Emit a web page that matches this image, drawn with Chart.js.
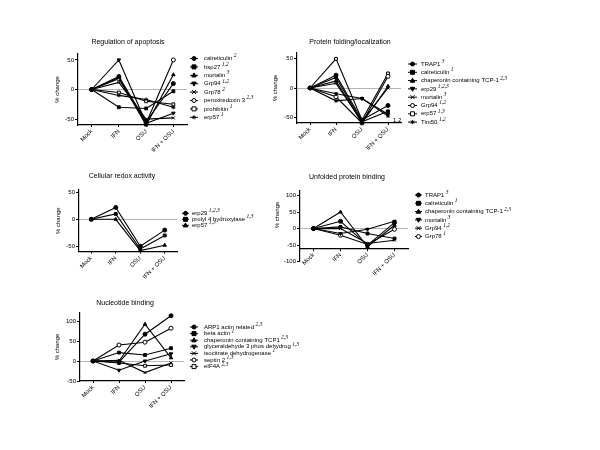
<!DOCTYPE html>
<html><head><meta charset="utf-8">
<script src="https://cdn.jsdelivr.net/npm/chart.js@4"></script>
<style>
html,body{margin:0;padding:0;background:#fff;}
#wrap{position:relative;width:600px;height:450px;overflow:hidden;}
#wrap canvas{position:absolute;left:0;top:0;}
</style></head><body><div id="wrap"></div>
<script>
// ---------- DATA ----------
const categories = ['Mock', 'IFN', 'OSU', 'IFN + OSU'];

const apoptosisTitle = 'Regulation of apoptosis';
const apoptosisNames = ['calreticulin', 'hsp27', 'mortalin', 'Grp94', 'Grp78', 'peroxiredoxin 3', 'prohibitin', 'erp57'];
const apoptosisSup = ['2', '1,2', '3', '1,2', '2', '2,3', '1', '1'];
const apoptosisValues = [
  [0, 22, -55, 10],
  [0, -30, -32, -3],
  [0, 20, -60, 25],
  [0, 50, -57, -40],
  [0, 12, -50, -48],
  [0, 18, -57, 50],
  [0, -5, -20, -25],
  [0, -10, -17, -30]
];
const apoptosisTicks = [-50, 0, 50];

const foldingTitle = 'Protein folding/localization';
const foldingNames = ['TRAP1', 'calreticulin', 'chaperonin containing TCP-1', 'erp29', 'mortalin', 'Grp94', 'erp57', 'Tim50'];
const foldingSup = ['3', '1', '2,3', '1,2,3', '3', '1,2', '1,3', '1,2'];
const foldingValues = [
  [0, 22, -55, -30],
  [0, 18, -58, -40],
  [0, 12, -60, 3],
  [0, -10, -18, -45],
  [0, 8, -57, 0],
  [0, -15, -60, 20],
  [0, 50, -55, 25],
  [0, -22, -18, -48]
];
const foldingTicks = [-50, 0, 50];
const foldingNote = '1,2';

const redoxTitle = 'Cellular redox activity';
const redoxNames = ['erp29', 'prolyl 4 hydroxylase', 'erp57'];
const redoxSup = ['1,2,3', '1,3', '1,3'];
const redoxValues = [
  [0, 22, -50, -20],
  [0, 10, -55, -30],
  [0, 0, -58, -48]
];
const redoxTicks = [-50, 0, 50];

const unfoldedTitle = 'Unfolded protein binding';
const unfoldedNames = ['TRAP1', 'calreticulin', 'chaperonin containing TCP-1', 'mortalin', 'Grp94', 'Grp78'];
const unfoldedSup = ['3', '1', '2,3', '3', '1,2', '1'];
const unfoldedValues = [
  [0, 22, -50, 18],
  [0, 5, -15, -30],
  [0, 50, -55, 10],
  [0, -15, -2, 22],
  [0, 0, -45, -35],
  [0, -20, -48, -2]
];
const unfoldedTicks = [-100, -50, 0, 50, 100];

const nucleotideTitle = 'Nucleotide binding';
const nucleotideNames = ['ARP1 actin related', 'beta actin', 'chaperonin containing TCP1', 'glyceraldehyde 3 phos dehydrog', 'isocitrate dehydrogenase', 'septin 2', 'eIF4A'];
const nucleotideSup = ['2,3', '1', '2,3', '1,3', '1', '1,3', '2,3'];
const nucleotideValues = [
  [0, -3, 67, 113],
  [0, 21, 15, 32],
  [0, 0, 92, 8],
  [0, -23, 0, 18],
  [0, 2, -29, -5],
  [0, 40, 47, 82],
  [0, -5, -12, -10]
];
const nucleotideTicks = [-50, 0, 50, 100];

const yAxisTitle = '% change';

// ---------- STYLE ----------
Chart.defaults.font.family = '"Liberation Sans", Arial, sans-serif';
Chart.defaults.color = '#000';
const FONT = '"Liberation Sans", Arial, sans-serif';
const markerStyles = [
  {ps: 'circle', fill: true},
  {ps: 'rect', fill: true},
  {ps: 'triangle', fill: true},
  {ps: 'triangle', fill: true, rot: 180},
  {ps: 'crossRot', fill: false},
  {ps: 'circle', fill: false},
  {ps: 'rect', fill: false},
  {ps: 'star', fill: false}
];

function drawMarker(ctx, st, x, y, r) {
  ctx.save();
  ctx.translate(x, y);
  if (st.rot) ctx.rotate(st.rot * Math.PI / 180);
  ctx.beginPath();
  ctx.lineWidth = 1;
  ctx.strokeStyle = '#000';
  ctx.fillStyle = st.fill ? '#000' : '#fff';
  if (st.ps === 'circle') { ctx.arc(0, 0, r, 0, Math.PI * 2); ctx.fill(); ctx.stroke(); }
  else if (st.ps === 'rect') { ctx.rect(-r, -r, 2 * r, 2 * r); ctx.fill(); ctx.stroke(); }
  else if (st.ps === 'triangle') { ctx.moveTo(0, -r * 1.2); ctx.lineTo(r * 1.1, r * 0.8); ctx.lineTo(-r * 1.1, r * 0.8); ctx.closePath(); ctx.fill(); ctx.stroke(); }
  else if (st.ps === 'crossRot') { ctx.moveTo(-r, -r); ctx.lineTo(r, r); ctx.moveTo(r, -r); ctx.lineTo(-r, r); ctx.stroke(); }
  else if (st.ps === 'star') { ctx.moveTo(0, -r); ctx.lineTo(0, r); ctx.moveTo(-r, 0); ctx.lineTo(r, 0); ctx.moveTo(-r*0.7, -r*0.7); ctx.lineTo(r*0.7, r*0.7); ctx.moveTo(r*0.7, -r*0.7); ctx.lineTo(-r*0.7, r*0.7); ctx.stroke(); }
  ctx.restore();
}

function decor(cfg) {
  return {
    id: 'decor',
    afterDraw(chart) {
      const ctx = chart.ctx;
      const A = chart.chartArea;
      ctx.save();
      ctx.fillStyle = '#000';
      ctx.font = '7px ' + FONT;
      ctx.textAlign = 'center';
      ctx.textBaseline = 'middle';
      ctx.fillText(cfg.title, cfg.titleX, cfg.titleY);
      ctx.save();
      ctx.font = '6px ' + FONT;
      ctx.translate(cfg.yTitleX, cfg.yTitleY !== undefined ? cfg.yTitleY : (A.top + A.bottom) / 2);
      ctx.rotate(-Math.PI / 2);
      ctx.fillText(yAxisTitle, 0, 0);
      ctx.restore();
      const L = cfg.legend;
      cfg.names.forEach((nm, i) => {
        const y = L.y0 + i * L.step;
        const st = markerStyles[i % markerStyles.length];
        ctx.beginPath();
        ctx.strokeStyle = '#000';
        ctx.lineWidth = 1;
        ctx.moveTo(L.mx, y); ctx.lineTo(L.mx + L.mw, y); ctx.stroke();
        drawMarker(ctx, st, L.mx + L.mw / 2, y, 2);
        ctx.fillStyle = '#000';
        ctx.font = '6px ' + FONT;
        ctx.textAlign = 'left';
        ctx.textBaseline = 'middle';
        ctx.fillText(nm, L.tx, y);
        const w = ctx.measureText(nm).width;
        ctx.font = 'italic 5.5px "Liberation Serif", "Times New Roman", serif';
        ctx.fillText(cfg.sup[i], L.tx + w + 1.5, y - 2.5);
      });
      if (cfg.note) {
        ctx.font = '6px ' + FONT;
        ctx.textAlign = 'left';
        ctx.fillText(cfg.note.text, cfg.note.x, cfg.note.y);
      }
      ctx.restore();
    }
  };
}

const wrap = document.getElementById('wrap');
function makePanel(cfg) {
  const canvas = document.createElement('canvas');
  canvas.width = 600; canvas.height = 450;
  canvas.style.width = '600px'; canvas.style.height = '450px';
  wrap.appendChild(canvas);
  const A = cfg.area;
  const YW = 25, XH = 30;
  const dyn = cfg.xAt !== undefined;
  const datasets = cfg.values.map((vals, i) => {
    const st = markerStyles[i % markerStyles.length];
    return {
      label: cfg.names[i], data: vals, borderColor: '#000', borderWidth: 1.1,
      pointStyle: st.ps, pointRotation: st.rot || 0, pointRadius: 2,
      pointBackgroundColor: st.fill ? '#000' : '#fff', pointBorderColor: '#000',
      pointBorderWidth: 1, tension: 0, clip: false, fill: false
    };
  });
  new Chart(canvas, {
    type: 'line',
    data: {labels: categories, datasets},
    options: {
      responsive: false, animation: false, devicePixelRatio: 1,
      layout: {padding: {left: A.l - YW, top: A.t, right: 600 - A.r, bottom: dyn ? 450 - A.b : 450 - A.b - XH}},
      plugins: {legend: {display: false}, title: {display: false}, tooltip: {enabled: false}},
      scales: {
        x: {
          type: 'category', position: dyn ? {y: cfg.xAt} : 'bottom', offset: true,
          grid: {drawOnChartArea: false, tickLength: 2, color: '#000'},
          border: {color: '#000', width: 1.2},
          ticks: {minRotation: 45, maxRotation: 45, autoSkip: false, color: '#000', font: {size: 6}, padding: 1},
          afterFit: s => { s.height = XH; }
        },
        y: {
          min: cfg.yMin, max: cfg.yMax,
          afterBuildTicks: s => { s.ticks = cfg.ticks.map(v => ({value: v})); },
          afterFit: s => { s.width = YW; },
          grid: {color: c => (c.tick && c.tick.value === 0) ? '#b4b4b4' : 'rgba(0,0,0,0)', tickColor: '#000', tickLength: 3, lineWidth: 1},
          border: {color: '#000', width: 1.2},
          ticks: {color: '#000', font: {size: 6}, padding: 1}
        }
      }
    },
    plugins: [decor(cfg)]
  });
}

makePanel({
  title: apoptosisTitle, names: apoptosisNames, sup: apoptosisSup, values: apoptosisValues, ticks: apoptosisTicks,
  area: {l: 78, t: 54, r: 187, b: 125}, yMin: -60, yMax: 60,
  titleX: 128, titleY: 42, yTitleX: 57,
  legend: {mx: 190, mw: 8, tx: 204, y0: 58.5, step: 8.4}
});
makePanel({
  title: foldingTitle, names: foldingNames, sup: foldingSup, values: foldingValues, ticks: foldingTicks,
  area: {l: 297, t: 53, r: 401, b: 123}, yMin: -60, yMax: 60,
  titleX: 350, titleY: 42, yTitleX: 275,
  legend: {mx: 408, mw: 9, tx: 421, y0: 64, step: 8.3},
  note: {text: foldingNote, x: 393, y: 120}
});
makePanel({
  title: redoxTitle, names: redoxNames, sup: redoxSup, values: redoxValues, ticks: redoxTicks,
  area: {l: 79, t: 189.6, r: 177, b: 251.7}, yMin: -60, yMax: 55,
  titleX: 122, titleY: 176, yTitleX: 58,
  legend: {mx: 182, mw: 7, tx: 192, y0: 213.3, step: 6}
});
makePanel({
  title: unfoldedTitle, names: unfoldedNames, sup: unfoldedSup, values: unfoldedValues, ticks: unfoldedTicks,
  area: {l: 300, t: 190.5, r: 408, b: 261.7}, yMin: -100, yMax: 115, xAt: -60,
  titleX: 347, titleY: 177, yTitleX: 277, yTitleY: 215,
  legend: {mx: 415, mw: 7, tx: 425, y0: 195, step: 8.3}
});
makePanel({
  title: nucleotideTitle, names: nucleotideNames, sup: nucleotideSup, values: nucleotideValues, ticks: nucleotideTicks,
  area: {l: 80, t: 313, r: 184, b: 381}, yMin: -50, yMax: 120,
  titleX: 125, titleY: 303, yTitleX: 57,
  legend: {mx: 190, mw: 8, tx: 204, y0: 327, step: 6.6}
});
</script></body></html>
